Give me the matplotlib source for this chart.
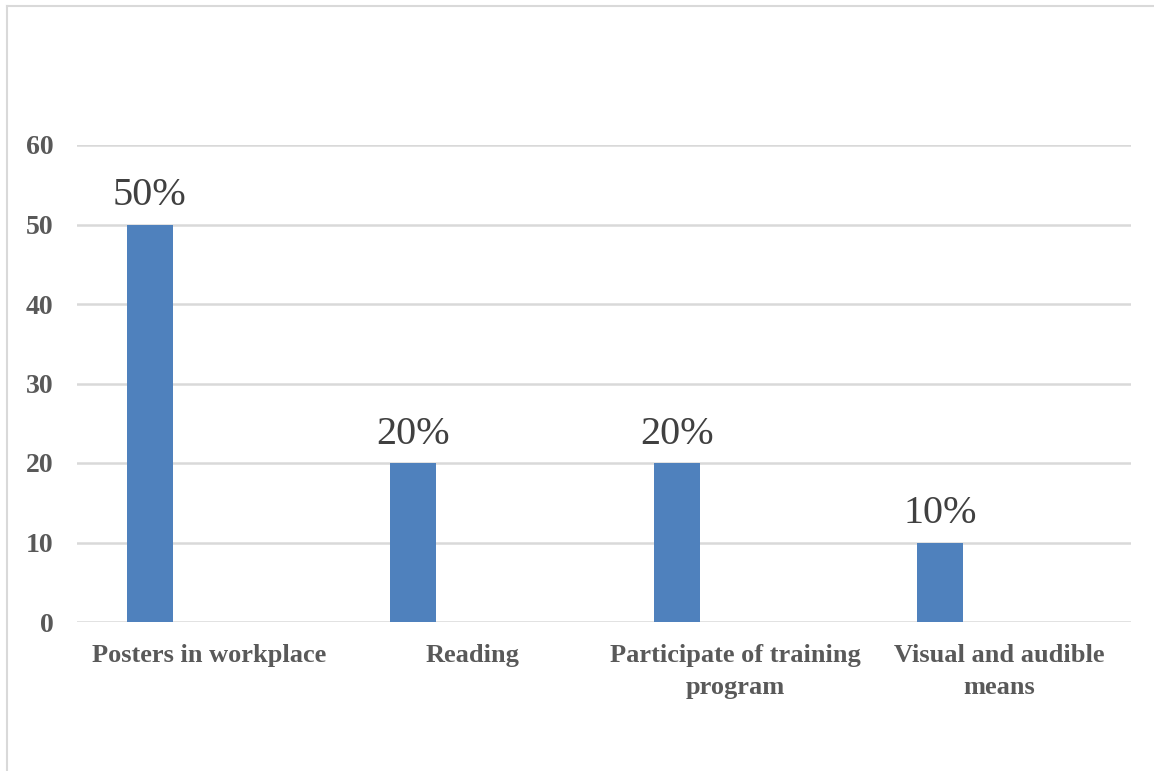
import numpy as np
import matplotlib
matplotlib.use('Agg')
import matplotlib.pyplot as plt
from matplotlib.lines import Line2D

# Donnees du graphique
categories = ['Posters in workplace', 'Reading', 'Participate of training\nprogram',
              'Visual and audible\nmeans']
values = [50, 20, 20, 10]
labels = ['50%', '20%', '20%', '10%']
yticks = [0, 10, 20, 30, 40, 50, 60]

plt.rcParams['font.family'] = ['Liberation Serif', 'DejaVu Serif']

fig = plt.figure(figsize=(11.54, 7.71), dpi=100)
ax = fig.add_axes([77 / 1154, 1 - 622 / 771, (1131 - 77) / 1154, (622 - 145) / 771])

x = np.arange(len(categories))
bars = ax.bar(x - 0.224, values, width=0.175, color='#4F81BD', zorder=3)

for b, lab in zip(bars, labels):
    ax.annotate(lab, (b.get_x() + b.get_width() / 2, b.get_height()),
                xytext=(0, 14), textcoords='offset points', ha='center', va='baseline',
                fontsize=29, color='#404040')

ax.set_xlim(-0.5, len(categories) - 0.5)
ax.set_ylim(0, 60)
ax.set_yticks(yticks)
ax.set_xticks(x)
ax.set_xticklabels(categories, fontsize=19, fontweight='bold', color='#595959',
                   linespacing=1.5)
ax.set_yticklabels([str(v) for v in yticks], fontsize=20, fontweight='bold', color='#595959')
ax.tick_params(axis='both', length=0)
ax.tick_params(axis='x', pad=16)
ax.tick_params(axis='y', pad=17)
ax.grid(axis='y', color='#D9D9D9', linewidth=1.8, zorder=0)
for s in ax.spines.values():
    s.set_visible(False)

# Cadre gris en haut et a gauche
fig.add_artist(Line2D([7 / 1154, 1], [1 - 6 / 771, 1 - 6 / 771], color='#D9D9D9', linewidth=1.5,
                      transform=fig.transFigure))
fig.add_artist(Line2D([7 / 1154, 7 / 1154], [0, 1 - 6 / 771], color='#D9D9D9', linewidth=1.5,
                      transform=fig.transFigure))

plt.savefig('out.png', dpi=100)
